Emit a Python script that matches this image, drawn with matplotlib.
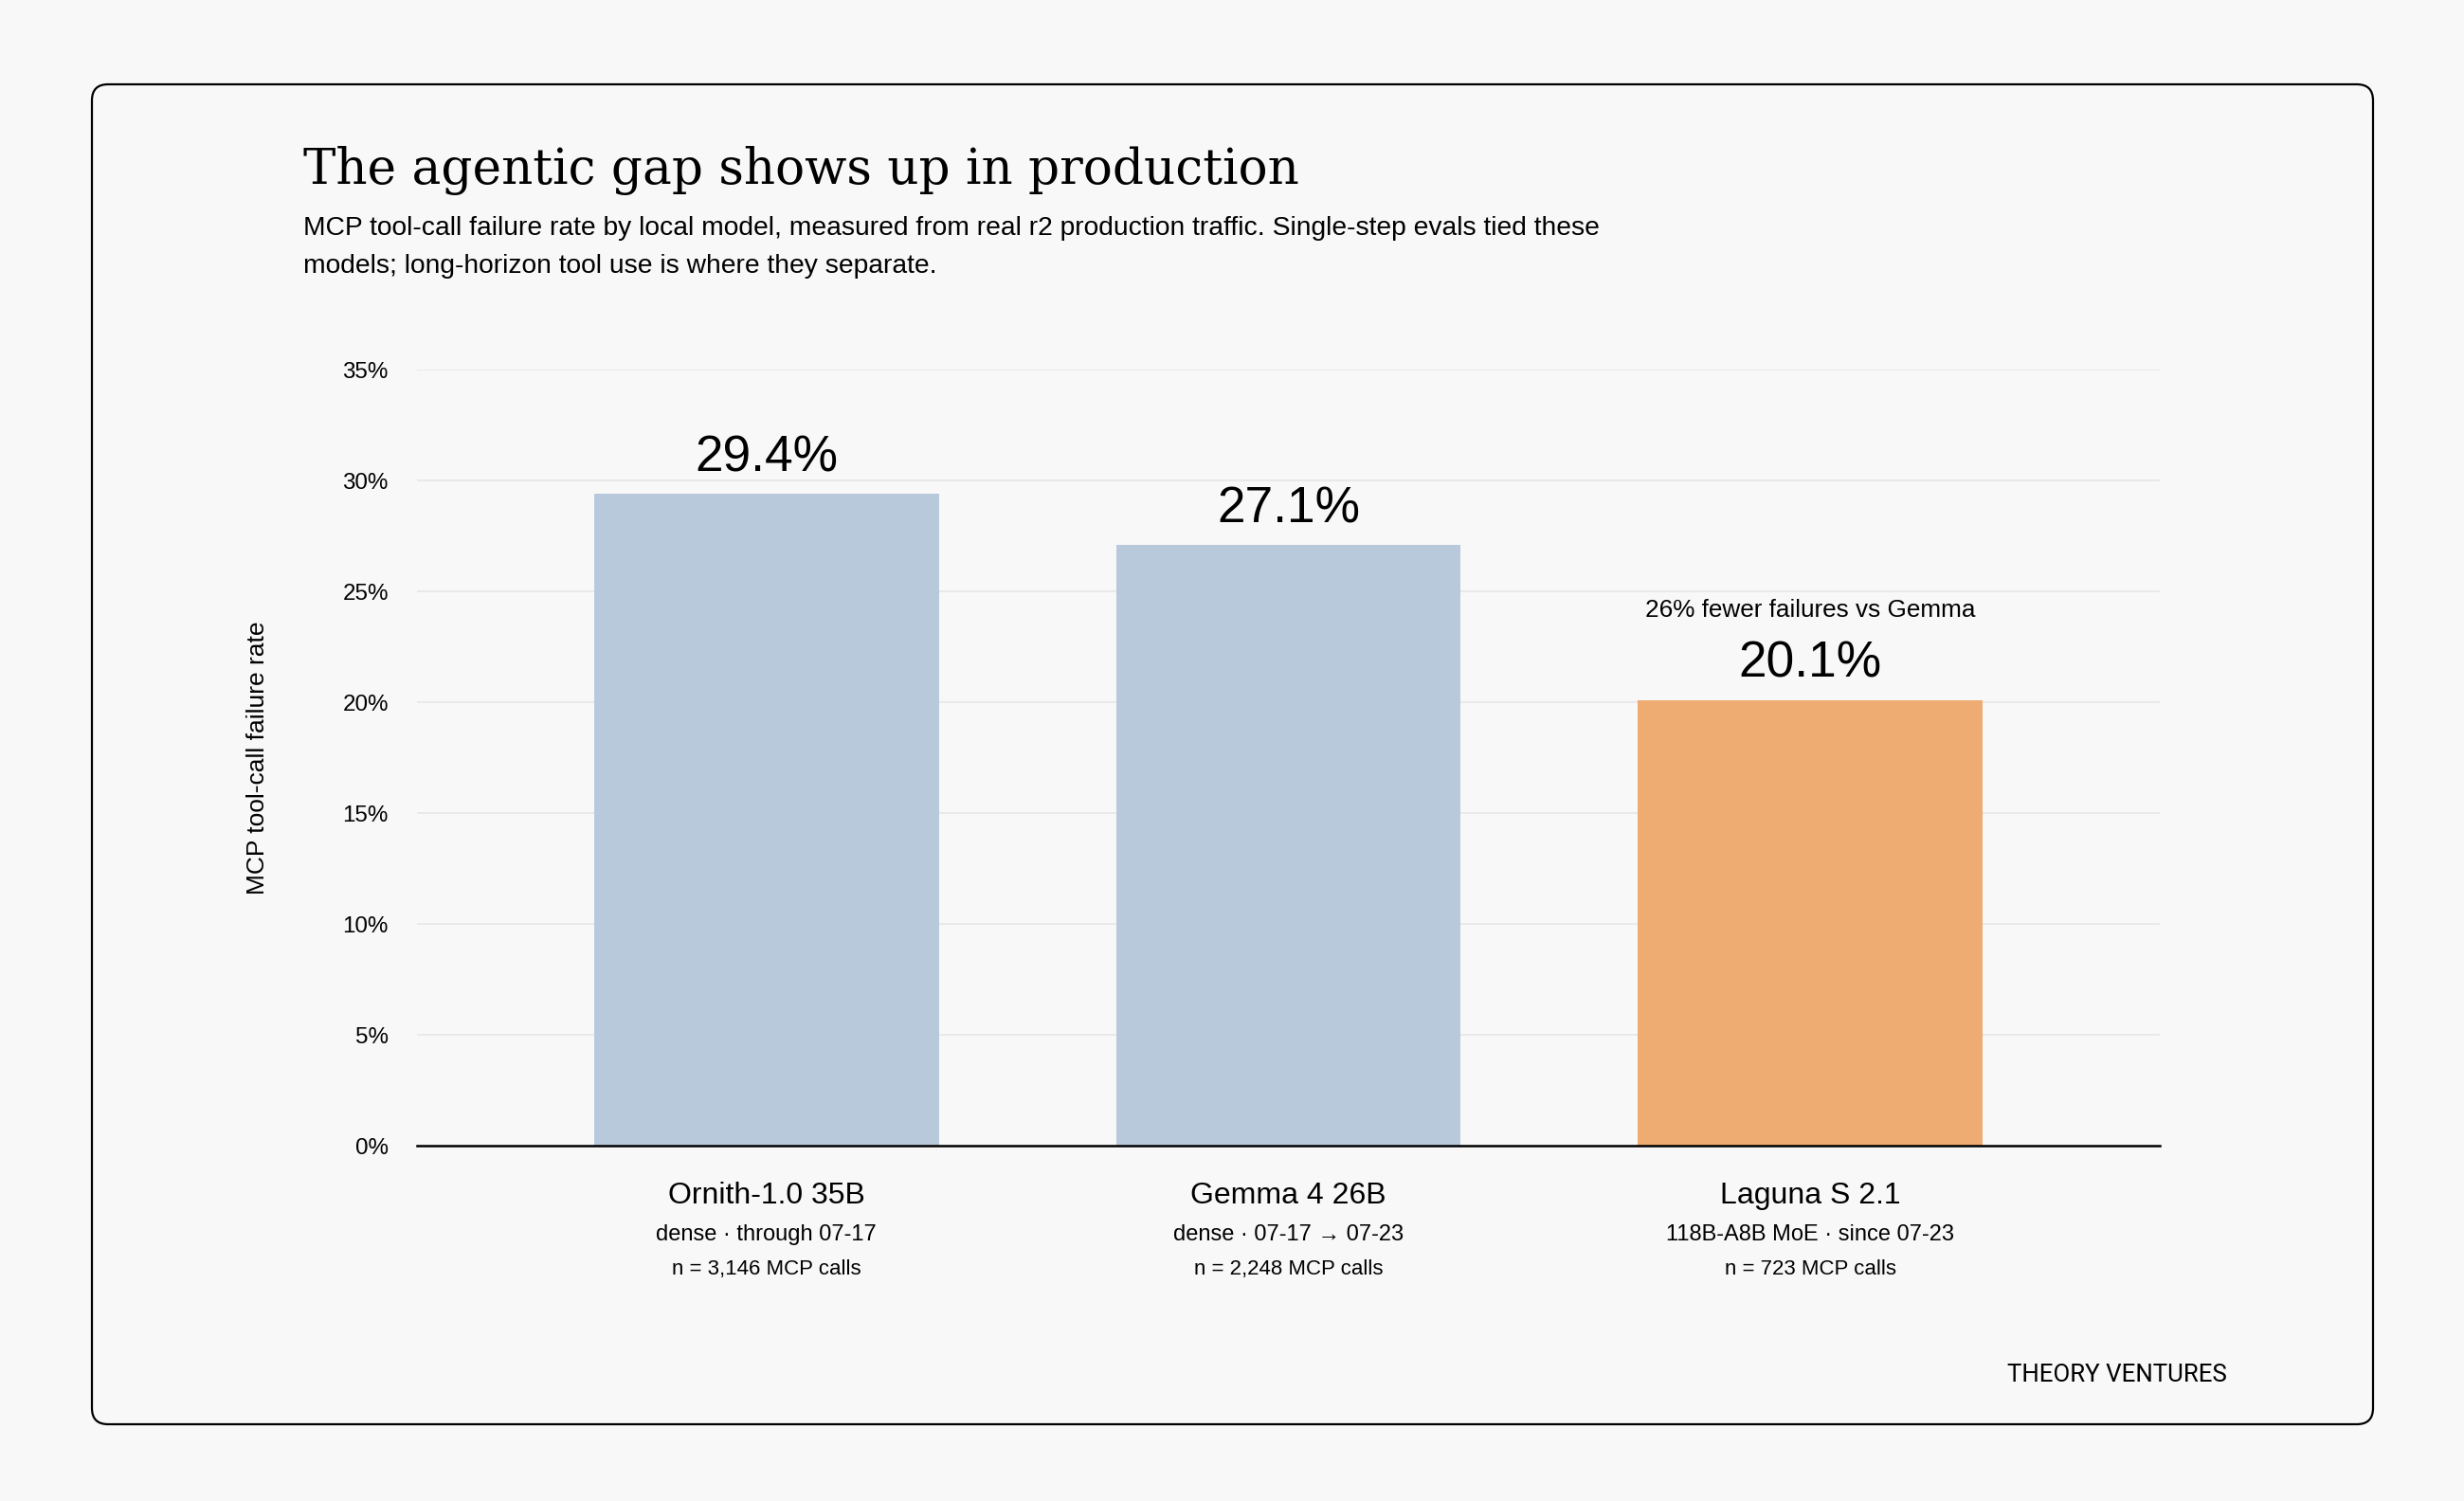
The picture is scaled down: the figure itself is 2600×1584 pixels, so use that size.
import matplotlib
matplotlib.use("Agg")
import matplotlib.pyplot as plt
from matplotlib.patches import FancyBboxPatch
from matplotlib.transforms import IdentityTransform

# data
models = ["Ornith-1.0 35B", "Gemma 4 26B", "Laguna S 2.1"]
details = ["dense \u00b7 through 07-17", "dense \u00b7 07-17 \u2192 07-23", "118B-A8B MoE \u00b7 since 07-23"]
counts = ["n = 3,146 MCP calls", "n = 2,248 MCP calls", "n = 723 MCP calls"]
failure_rate = [29.4, 27.1, 20.1]
bar_colors = ["#b9c9dc", "#b9c9dc", "#eeac72"]
yticks = [0, 5, 10, 15, 20, 25, 30, 35]
callout = "26% fewer failures vs Gemma"

BG = "#f8f8f8"
SANS = ["Liberation Sans", "DejaVu Sans"]
plt.rcParams['font.family'] = SANS

fig = plt.figure(figsize=(13, 7.92), dpi=200, facecolor=BG)

# rounded frame (pixel coords)
frame = FancyBboxPatch((97, 81), 2407, 1414, boxstyle="round,pad=0,rounding_size=17",
                       transform=IdentityTransform(), facecolor="none", edgecolor="black",
                       linewidth=0.8, zorder=-10)
fig.patches.append(frame)

ax = fig.add_axes([0.1692, 0.2367, 0.7073, 0.5170])
ax.set_facecolor(BG)

x = list(range(len(models)))
ax.bar(x, failure_rate, width=0.66, color=bar_colors, zorder=2)

ax.set_xlim(-0.67, 2.67)
ax.set_ylim(0, 35)
ax.set_yticks(yticks)
ax.set_yticklabels([f"{v}%" for v in yticks], fontsize=8.7)
ax.tick_params(axis="y", length=0, pad=10.8)
ax.set_xticks([])
ax.grid(axis="y", color="#e6e6e6", linewidth=0.6, zorder=0)
ax.set_axisbelow(True)
for s in ax.spines.values():
    s.set_visible(False)
ax.axhline(0, color="black", linewidth=0.9, zorder=3, clip_on=False)

for i, v in enumerate(failure_rate):
    ax.annotate(f"{v}%", (i, v), xytext=(0, 8.6), textcoords="offset points",
                ha="center", va="baseline", fontsize=19.2)
    ax.annotate(models[i], (i, 0), xycoords=("data", "axes fraction"), xytext=(0, -22),
                textcoords="offset points", ha="center", va="baseline", fontsize=11.5)
    ax.annotate(details[i], (i, 0), xycoords=("data", "axes fraction"), xytext=(0, -36),
                textcoords="offset points", ha="center", va="baseline", fontsize=8.5)
    ax.annotate(counts[i], (i, 0), xycoords=("data", "axes fraction"), xytext=(0, -49),
                textcoords="offset points", ha="center", va="baseline", fontsize=8)

ax.annotate(callout, (2, failure_rate[2]), xytext=(0, 31.7), textcoords="offset points",
            ha="center", va="baseline", fontsize=9.4)

fig.text(0.1046, 0.4953, "MCP tool-call failure rate", rotation=90, ha="center",
         va="center", fontsize=9.5)

fig.text(0.1231, 0.8775, "The agentic gap shows up in production", ha="left",
         va="baseline", fontsize=18.6, family=["DejaVu Serif"])
fig.text(0.1231, 0.8434, "MCP tool-call failure rate by local model, measured from real r2 "
         "production traffic. Single-step evals tied these", ha="left", va="baseline", fontsize=10.2)
fig.text(0.1231, 0.8182, "models; long-horizon tool use is where they separate.",
         ha="left", va="baseline", fontsize=10.2)

fig.text(0.9038, 0.0795, "THEORY VENTURES", ha="right", va="baseline", fontsize=9.3,
         family=["Roboto", "DejaVu Sans"])

fig.savefig("out.png", dpi=200, facecolor=BG)
